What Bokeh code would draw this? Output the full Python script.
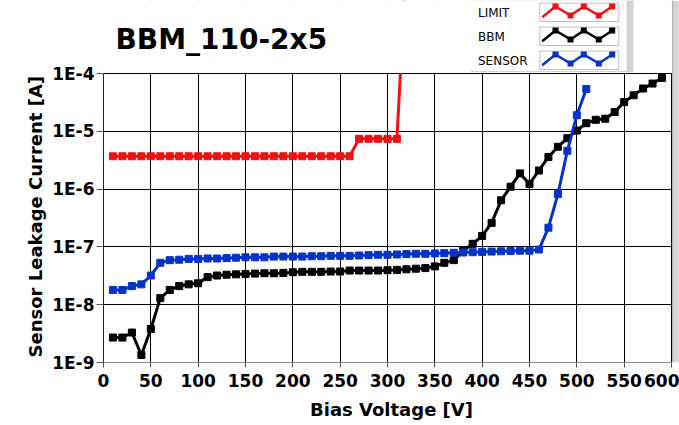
from bokeh.plotting import figure
from bokeh.models import (Range1d, FixedTicker, CustomJSTickFormatter, Label,
                          BoxAnnotation, Arrow, ColumnDataSource, Title)
from bokeh.embed import file_html
from bokeh.resources import INLINE

# ---------------- data ----------------
title_text = "BBM_110-2x5"
x_label = "Bias Voltage [V]"
y_label = "Sensor Leakage Current [A]"
series_names = ["LIMIT", "BBM", "SENSOR"]
series_colors = ["#ee1111", "#000000", "#0533c8"]

x_ticks = [0, 50, 100, 150, 200, 250, 300, 350, 400, 450, 500, 550, 600]
y_ticks = [1e-9, 1e-8, 1e-7, 1e-6, 1e-5, 1e-4]

limit_v = [10, 20, 30, 40, 50, 60, 70, 80, 90, 100, 110, 120, 130, 140, 150,
           160, 170, 180, 190, 200, 210, 220, 230, 240, 250, 260,
           270, 280, 290, 300, 310, 320]
limit_i = [3.7e-6] * 26 + [7.4e-6] * 5 + [1e-2]

bbm_v = [10, 20, 30, 40, 50, 60, 70, 80, 90, 100, 110, 120, 130, 140, 150,
         160, 170, 180, 190, 200, 210, 220, 230, 240, 250, 260, 270, 280, 290,
         300, 310, 320, 330, 340, 350, 360, 370, 380, 390, 400, 410, 420, 430,
         440, 450, 460, 470, 480, 490, 500, 510, 520, 530, 540, 550, 560, 570,
         580, 590]
bbm_i = [2.7e-9, 2.7e-9, 3.3e-9, 1.35e-9, 3.8e-9, 1.3e-8, 1.8e-8, 2.1e-8,
         2.25e-8, 2.35e-8, 3.0e-8, 3.2e-8, 3.3e-8, 3.35e-8, 3.4e-8, 3.45e-8,
         3.5e-8, 3.5e-8, 3.55e-8, 3.65e-8, 3.7e-8, 3.7e-8, 3.7e-8, 3.75e-8,
         3.75e-8, 3.9e-8, 3.9e-8, 3.9e-8, 3.9e-8, 3.95e-8, 4.0e-8, 4.1e-8,
         4.2e-8, 4.3e-8, 4.6e-8, 5.3e-8, 5.9e-8, 8.7e-8, 1.13e-7, 1.55e-7,
         2.6e-7, 6.4e-7, 1.1e-6, 1.87e-6, 1.23e-6, 2.1e-6, 3.6e-6, 5.4e-6,
         7.6e-6, 1.03e-5, 1.38e-5, 1.58e-5, 1.65e-5, 2.15e-5, 3.2e-5, 4.2e-5,
         5.5e-5, 6.7e-5, 8.4e-5]

sensor_v = [10, 20, 30, 40, 50, 60, 70, 80, 90, 100, 110, 120, 130, 140, 150,
            160, 170, 180, 190, 200, 210, 220, 230, 240, 250, 260, 270, 280,
            290, 300, 310, 320, 330, 340, 350, 360, 370, 380, 390, 400, 410,
            420, 430, 440, 450, 460, 470, 480, 490, 500, 510]
sensor_i = [1.8e-8, 1.8e-8, 2.1e-8, 2.25e-8, 3.2e-8, 5.3e-8, 5.9e-8, 6.0e-8,
            6.2e-8, 6.2e-8, 6.3e-8, 6.3e-8, 6.4e-8, 6.5e-8, 6.6e-8, 6.6e-8,
            6.6e-8, 6.8e-8, 6.8e-8, 6.8e-8, 6.8e-8, 6.9e-8, 6.9e-8, 7.0e-8,
            7.0e-8, 7.0e-8, 7.1e-8, 7.2e-8, 7.3e-8, 7.3e-8, 7.4e-8, 7.5e-8,
            7.6e-8, 7.6e-8, 7.7e-8, 7.8e-8, 7.9e-8, 8.0e-8, 8.1e-8, 8.2e-8,
            8.3e-8, 8.4e-8, 8.5e-8, 8.6e-8, 8.6e-8, 9.0e-8, 2.15e-7, 8.2e-7,
            4.6e-6, 1.9e-5, 5.4e-5]

# ---------------- layout ----------------
W, H = 679, 425
ML, MR, MT, MB = 103, 0, 0, 63
FW = W - ML - MR            # 576 px, of which 568 px hold 0..600 V
FH = H - MT - MB            # 362 px
PX_PER_V = 568 / 600.0
DEC_PX = 57.8               # pixels per decade
X_END = FW / PX_PER_V       # data x at the right edge of the frame
L_BOT = -9.0
L_TOP = L_BOT + FH / DEC_PX  # data (log) at the top of the frame


def xd(px):
    """canvas pixel x -> data x (decorations only)"""
    return (px - ML) / PX_PER_V


def yd(py):
    """canvas pixel y -> data y on the log axis (decorations only)"""
    return 10 ** (L_TOP - (py - MT) / DEC_PX)


FONT = "DejaVu Sans"

p = figure(width=W, height=H, x_range=Range1d(0, X_END),
           y_range=Range1d(10 ** L_BOT, 10 ** L_TOP), y_axis_type="log",
           output_backend="svg", toolbar_location=None,
           min_border_left=ML, min_border_right=MR,
           min_border_top=MT, min_border_bottom=MB)
p.background_fill_color = "white"
p.border_fill_color = "white"
p.outline_line_color = None

# axes
p.xaxis.ticker = FixedTicker(ticks=x_ticks)
p.yaxis.ticker = FixedTicker(ticks=y_ticks)
p.xaxis.bounds = (x_ticks[0], x_ticks[-1])
p.yaxis.bounds = (y_ticks[0], y_ticks[-1])
p.yaxis.formatter = CustomJSTickFormatter(
    code="return '1E' + Math.round(Math.log10(tick));")
for ax in (p.xaxis[0], p.yaxis[0]):
    ax.major_label_text_font = FONT
    ax.major_label_text_font_style = "bold"
    ax.major_label_text_font_size = "17px"
    ax.major_label_text_color = "black"
    ax.axis_label_text_font = FONT
    ax.axis_label_text_font_style = "bold"
    ax.axis_label_text_font_size = "18px"
    ax.axis_label_text_color = "black"
    ax.minor_tick_line_color = None
    ax.major_tick_in = 0
    ax.major_tick_line_color = "#555555"

p.xaxis.axis_label = x_label
p.xaxis.major_tick_out = 5
p.yaxis.major_tick_out = 7
p.xaxis.major_label_standoff = 6
p.yaxis.major_label_standoff = 2
p.xaxis.axis_label_standoff = 9
p.xaxis.axis_line_color = "#888888"
p.yaxis.axis_line_color = "#222222"

# y axis title, aligned with the 1E-9 .. 1E-4 span rather than the whole frame
p.add_layout(Title(text=y_label, align="left", offset=5, standoff=7,
                   text_font=FONT, text_font_style="bold",
                   text_font_size="18px", text_color="black"), "left")

p.xgrid.ticker = FixedTicker(ticks=x_ticks)
p.ygrid.ticker = FixedTicker(ticks=y_ticks)
p.grid.grid_line_color = "black"
p.grid.grid_line_alpha = 1.0
p.grid.grid_line_width = 1

# series
for vs, cs, col in ((limit_v, limit_i, series_colors[0]),
                    (bbm_v, bbm_i, series_colors[1]),
                    (sensor_v, sensor_i, series_colors[2])):
    p.line(vs, cs, line_color=col, line_width=3)
    p.scatter(vs, cs, marker="square", size=7, fill_color=col, line_color=col)

# white band above the 1E-4 line (header area: title + legend)
p.add_layout(BoxAnnotation(bottom=yd(72.4), top=yd(-20), fill_color="white",
                           fill_alpha=1, line_color=None, level="overlay"))
# grey side bar at the right edge
p.add_layout(BoxAnnotation(left=xd(671.5), fill_color="#d6d6d6", fill_alpha=1,
                           line_color=None, level="overlay"))
p.add_layout(BoxAnnotation(left=xd(671.5), right=xd(673), fill_color="#b8b8b8",
                           fill_alpha=1, line_color=None, level="overlay"))

header = []
# title
header.append(Label(x=xd(115), y=yd(38.5), text=title_text, text_font=FONT,
                    text_font_style="bold", text_font_size="28px",
                    text_color="black", text_baseline="alphabetic",
                    text_align="left"))

# legend panel
header.append(BoxAnnotation(left=xd(470), right=xd(633), top=yd(-20), bottom=yd(71.5),
                            fill_color="#d2d2d2", fill_alpha=1, line_color=None))
header.append(BoxAnnotation(left=xd(466), right=xd(626), top=yd(-20), bottom=yd(70.5),
                            fill_color="white", fill_alpha=1, line_color=None))

row_tops = [2.7, 26.7, 50.7]
for name, col, t in zip(series_names, series_colors, row_tops):
    header.append(Label(x=xd(477.5), y=yd(t + 10), text=name, text_font=FONT,
                        text_font_size="12px", text_color="black",
                        text_baseline="alphabetic", text_align="left"))
    header.append(BoxAnnotation(left=xd(539.3), right=xd(618.3), top=yd(t),
                                bottom=yd(t + 18.3), fill_color="white",
                                fill_alpha=1, line_color="#303030", line_width=1))
    zx = [541.7, 555, 570, 583.3, 598.3, 611.7]
    zy = [t + 14, t + 3.3, t + 12.3, t + 3.3, t + 12.3, t + 3.3]
    src = ColumnDataSource(dict(x0=[xd(a) for a in zx[:-1]],
                                y0=[yd(b) for b in zy[:-1]],
                                x1=[xd(a) for a in zx[1:]],
                                y1=[yd(b) for b in zy[1:]]))
    header.append(Arrow(start=None, end=None, source=src, x_start="x0",
                        y_start="y0", x_end="x1", y_end="y1",
                        line_color=col, line_width=2.5))
    for a, b in zip(zx[1:], zy[1:]):
        header.append(BoxAnnotation(left=xd(a - 3), right=xd(a + 3),
                                    top=yd(b - 3), bottom=yd(b + 3),
                                    fill_color=col, fill_alpha=1, line_color=None))

for item in header:
    item.level = "overlay"
    p.add_layout(item)

open("out.html", "w").write(file_html(p, INLINE))
